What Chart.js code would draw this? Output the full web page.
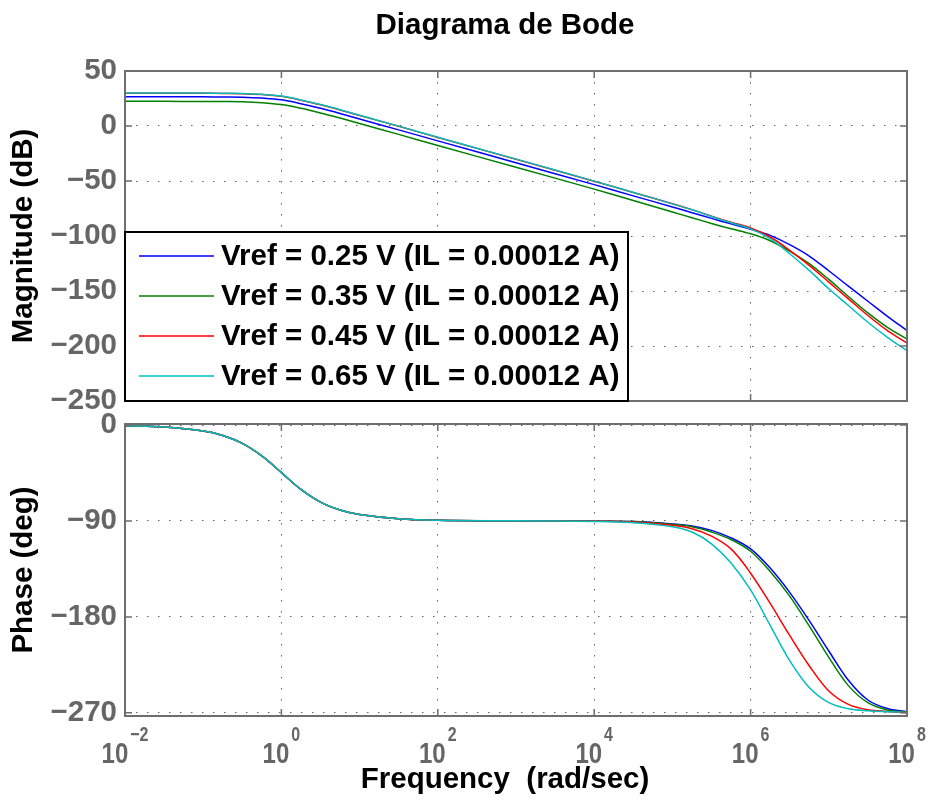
<!DOCTYPE html>
<html>
<head>
<meta charset="utf-8">
<title>Diagrama de Bode</title>
<script src="https://cdn.jsdelivr.net/npm/chart.js@4/dist/chart.umd.min.js"></script>
<style>
  html, body { margin: 0; padding: 0; background: #fff; }
  #wrap { position: relative; width: 931px; height: 803px; }
  #wrap canvas { position: absolute; left: 0; top: 0; }
</style>
</head>
<body>
<div id="wrap">
  <canvas id="mag" width="931" height="803"></canvas>
  <canvas id="phase" width="931" height="803"></canvas>
</div>
<script>
// Frequency samples (rad/sec)
const freq = [0.01, 0.0316, 0.1, 0.178, 0.316, 0.562, 1, 1.78, 3.16, 5.62, 10, 31.6, 100, 1000,
              1e4, 3.16e4, 1e5, 1.78e5, 3.16e5, 5.62e5, 1e6, 1.78e6, 3.16e6, 5.62e6, 1e7,
              1.78e7, 3.16e7, 5.62e7, 1e8];

const seriesLabels = [
  'Vref = 0.25 V (IL = 0.00012 A)',
  'Vref = 0.35 V (IL = 0.00012 A)',
  'Vref = 0.45 V (IL = 0.00012 A)',
  'Vref = 0.65 V (IL = 0.00012 A)'
];

// Magnitude (dB)
const magV025 = [26.6, 26.6, 26.5, 26.4, 26.2, 25.4, 23.8, 20.3, 16.1, 11.4, 6.4, -3.5, -13.5, -33.4,
                 -53.3, -63.5, -73.6, -78.8, -84.0, -89.0, -93.8, -99.4, -107.9, -118.2, -131.6,
                 -145.6, -159.3, -173.0, -186.0];
const magV035 = [22.4, 22.4, 22.3, 22.2, 22.0, 21.2, 19.5, 16.1, 11.9, 7.2, 2.2, -7.6, -17.7, -37.5,
                 -57.4, -67.8, -78.2, -83.4, -88.6, -93.5, -98.0, -104.3, -113.7, -125.2, -139.5,
                 -155.0, -169.9, -183.0, -193.6];
const magV045 = [29.8, 29.8, 29.7, 29.6, 29.4, 28.6, 27.0, 23.5, 19.3, 14.6, 9.6, -0.3, -10.4, -30.3,
                 -50.2, -60.4, -70.6, -76.0, -81.9, -87.5, -92.7, -100.9, -113.0, -126.7, -141.9,
                 -157.1, -172.3, -186.0, -197.3];
const magV065 = [30.0, 30.0, 29.9, 29.8, 29.6, 28.8, 27.2, 23.7, 19.5, 14.8, 9.8, -0.1, -10.2, -30.1,
                 -50.1, -60.4, -70.8, -76.2, -82.2, -88.0, -93.5, -102.4, -116.1, -131.3, -148.0,
                 -163.2, -178.4, -192.1, -204.3];

// Phase (deg)
const phV025 = [-0.6, -1.8, -5.6, -9.8, -17.2, -29.0, -44.6, -60.4, -72.3, -79.7, -84.0, -88.0, -89.4, -89.9,
                -90.2, -90.6, -92.8, -94.7, -98.8, -105.8, -116.2, -134.2, -157.0, -183.5, -212.0,
                -239.5, -258.0, -266.0, -269.0];
const phV035 = [-0.6, -1.8, -5.6, -9.8, -17.2, -29.0, -44.6, -60.4, -72.3, -79.7, -84.0, -88.0, -89.4, -89.9,
                -90.2, -90.6, -93.2, -95.4, -100.4, -107.4, -118.4, -137.4, -160.5, -188.5, -218.0,
                -244.5, -260.5, -267.3, -269.4];
const phV045 = [-0.6, -1.8, -5.6, -9.8, -17.2, -29.0, -44.6, -60.4, -72.3, -79.7, -84.0, -88.0, -89.4, -89.9,
                -90.3, -91.0, -94.1, -97.3, -104.2, -116.2, -139.0, -167.4, -197.4, -225.8, -249.5,
                -262.1, -267.2, -268.7, -269.7];
const phV065 = [-0.6, -1.8, -5.6, -9.8, -17.2, -29.0, -44.6, -60.4, -72.3, -79.7, -84.0, -88.0, -89.4, -89.9,
                -90.5, -91.6, -95.4, -100.4, -111.5, -129.5, -154.7, -188.0, -221.0, -246.3, -260.5,
                -266.2, -268.1, -269.0, -269.7];

// Tick positions
const freqTicks = [1e-2, 1, 1e2, 1e4, 1e6, 1e8];
const magTicks = [-250, -200, -150, -100, -50, 0, 50];
const phaseTicks = [-270, -180, -90, 0];

const seriesColors = ['#0000ff', '#008000', '#ff0000', '#00bfbf'];
const FONT = '"Liberation Sans", Arial, Helvetica, sans-serif';
const TEXT_SIZE = 29.5;
const AXIS_COLOR = '#6e6e6e';
const TICK_COLOR = '#666666';
const GRID_COLOR = 'rgba(70,70,70,0.85)';

const fmtNum = v => (v < 0 ? '\u2212' + Math.abs(v) : String(v));
const toPoints = ys => ys.map((y, i) => ({ x: freq[i], y }));

function makeDatasets(lists) {
  return lists.map((ys, i) => ({
    label: seriesLabels[i],
    data: toPoints(ys),
    borderColor: seriesColors[i],
    backgroundColor: seriesColors[i],
    borderWidth: 1.5,
    pointRadius: 0,
    tension: 0.35,
    fill: false,
    order: lists.length - i
  }));
}

// Axes box with inward tick marks on all four sides
const framePlugin = {
  id: 'frame',
  afterDatasetsDraw(chart) {
    const { ctx, chartArea: a, scales } = chart;
    ctx.save();
    ctx.strokeStyle = AXIS_COLOR;
    ctx.lineWidth = 1.5;
    ctx.beginPath();
    scales.x.ticks.forEach(t => {
      const px = scales.x.getPixelForValue(t.value);
      ctx.moveTo(px, a.bottom); ctx.lineTo(px, a.bottom - 7);
      ctx.moveTo(px, a.top); ctx.lineTo(px, a.top + 7);
    });
    scales.y.ticks.forEach(t => {
      const py = scales.y.getPixelForValue(t.value);
      ctx.moveTo(a.left, py); ctx.lineTo(a.left + 7, py);
      ctx.moveTo(a.right, py); ctx.lineTo(a.right - 7, py);
    });
    ctx.stroke();
    ctx.lineWidth = 2;
    ctx.strokeRect(a.left, a.top, a.right - a.left, a.bottom - a.top);
    ctx.restore();
  }
};

// Boxed legend in the lower-left corner of the magnitude axes
const legendPlugin = {
  id: 'boxLegend',
  afterDatasetsDraw(chart) {
    const { ctx, chartArea: a } = chart;
    const w = 503, h = 169;
    const lx = a.left, ly = a.bottom - h;
    ctx.save();
    ctx.fillStyle = '#fff';
    ctx.fillRect(lx, ly, w, h);
    ctx.strokeStyle = '#000';
    ctx.lineWidth = 2;
    ctx.strokeRect(lx, ly, w, h);
    ctx.font = 'bold ' + TEXT_SIZE + 'px ' + FONT;
    ctx.textBaseline = 'middle';
    ctx.textAlign = 'left';
    chart.data.datasets.forEach((ds, i) => {
      const y = ly + 24 + i * 40;
      ctx.strokeStyle = ds.borderColor;
      ctx.lineWidth = 1.5;
      ctx.beginPath();
      ctx.moveTo(lx + 14, y); ctx.lineTo(lx + 89, y);
      ctx.stroke();
      ctx.fillStyle = '#000';
      ctx.fillText(ds.label, lx + 96, y + 1);
    });
    ctx.restore();
  }
};

const figTitlePlugin = {
  id: 'figTitle',
  afterDraw(chart) {
    const { ctx } = chart;
    ctx.save();
    ctx.font = 'bold ' + TEXT_SIZE + 'px ' + FONT;
    ctx.fillStyle = '#000';
    ctx.textAlign = 'center';
    ctx.textBaseline = 'alphabetic';
    ctx.fillText('Diagrama de Bode', 505, 34);
    ctx.restore();
  }
};

// Narrow text helper used by the power-of-ten labels
function narrowText(ctx, text, x, y, size, sx) {
  ctx.save();
  ctx.translate(x, y);
  ctx.scale(sx, 1);
  ctx.font = 'bold ' + size + 'px ' + FONT;
  ctx.fillText(text, 0, 0);
  ctx.restore();
}

// Frequency tick labels as powers of ten, plus the axis label
const freqLabelPlugin = {
  id: 'freqLabels',
  afterDraw(chart) {
    const { ctx, scales } = chart;
    const sx = 0.8, baseSize = 30, expSize = 20;
    ctx.save();
    ctx.fillStyle = TICK_COLOR;
    ctx.textBaseline = 'alphabetic';
    ctx.textAlign = 'left';
    freqTicks.forEach(v => {
      const px = scales.x.getPixelForValue(v);
      const e = Math.round(Math.log10(v));
      const expText = e < 0 ? '\u2212' + Math.abs(e) : String(e);
      ctx.font = 'bold ' + baseSize + 'px ' + FONT;
      const wb = ctx.measureText('10').width * sx;
      ctx.font = 'bold ' + expSize + 'px ' + FONT;
      const we = ctx.measureText(expText).width * sx;
      const x0 = px - (wb + we + 2) / 2;
      narrowText(ctx, '10', x0, 763, baseSize, sx);
      narrowText(ctx, expText, x0 + wb + 2, 741, expSize, sx);
    });
    ctx.fillStyle = '#000';
    ctx.font = 'bold ' + TEXT_SIZE + 'px ' + FONT;
    ctx.textAlign = 'center';
    ctx.fillText('Frequency  (rad/sec)', 505, 788);
    ctx.restore();
  }
};

function xScale(heightPx) {
  return {
    type: 'logarithmic',
    min: 1e-2,
    max: 1e8,
    afterBuildTicks: s => { s.ticks = freqTicks.map(v => ({ value: v })); },
    ticks: { display: false },
    grid: { color: GRID_COLOR, lineWidth: 1, drawTicks: false },
    border: { display: false, dash: [1.5, 9.5] },
    afterFit: s => { s.height = heightPx; s.paddingLeft = 0; s.paddingRight = 0; }
  };
}

function yScale(min, max, tickList, titleText) {
  return {
    min, max,
    afterBuildTicks: s => { s.ticks = tickList.map(v => ({ value: v })); },
    ticks: {
      padding: 8,
      color: TICK_COLOR,
      font: { family: FONT, size: TEXT_SIZE, weight: 'bold' },
      callback: v => fmtNum(v)
    },
    grid: { color: GRID_COLOR, lineWidth: 1, drawTicks: false },
    border: { display: false, dash: [1.5, 9.5] },
    title: {
      display: true,
      text: titleText,
      color: '#000',
      font: { family: FONT, size: TEXT_SIZE, weight: 'bold' },
      padding: { top: 6, bottom: 0 }
    },
    afterFit: s => { s.width = 125; s.paddingTop = 0; s.paddingBottom = 0; }
  };
}

const common = {
  responsive: false,
  animation: false,
  events: [],
  plugins: { legend: { display: false }, tooltip: { enabled: false }, title: { display: false } }
};

new Chart(document.getElementById('mag'), {
  type: 'line',
  data: { datasets: makeDatasets([magV025, magV035, magV045, magV065]) },
  options: Object.assign({}, common, {
    layout: { padding: { left: 0, right: 24, top: 71, bottom: 402 } },
    scales: { x: xScale(0), y: yScale(-250, 50, magTicks, 'Magnitude (dB)') }
  }),
  plugins: [framePlugin, legendPlugin, figTitlePlugin]
});

new Chart(document.getElementById('phase'), {
  type: 'line',
  data: { datasets: makeDatasets([phV025, phV035, phV045, phV065]) },
  options: Object.assign({}, common, {
    layout: { padding: { left: 0, right: 24, top: 424, bottom: 0 } },
    scales: { x: xScale(87), y: yScale(-273, 1, phaseTicks, 'Phase (deg)') }
  }),
  plugins: [framePlugin, freqLabelPlugin]
});
</script>
</body>
</html>
